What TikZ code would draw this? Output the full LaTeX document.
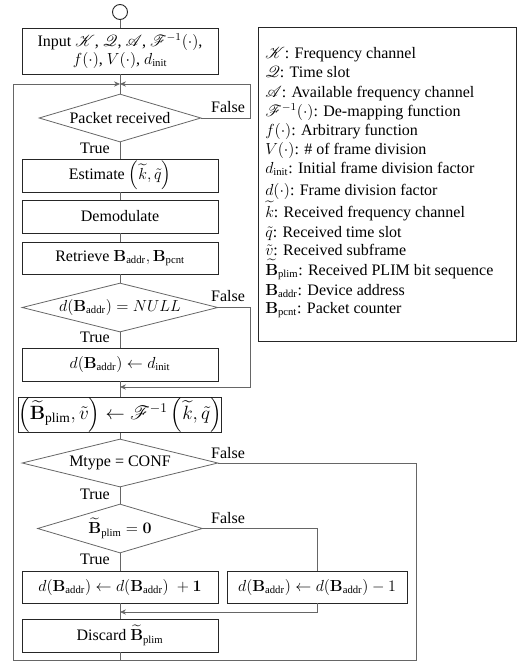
\documentclass[tikz,border=0pt]{standalone}
\usepackage{amsmath}
\usepackage{mathrsfs}
\usepackage[no-math]{fontspec}
\setmainfont{Liberation Serif}
\usetikzlibrary{shapes.geometric,arrows.meta}
\newcommand{\bsub}[1]{\mathbf{B}_{\text{#1}}}
\newcommand{\btil}{\widetilde{\mathbf{B}}_{\text{plim}}}
\begin{document}
\begin{tikzpicture}[x=0.75pt,y=-0.75pt,
  font=\fontsize{12}{14}\selectfont,
  conn/.style={draw=black!60, line width=0.6pt},
  arr/.style={-{Stealth[length=4.5pt,width=4pt]}},
  stepbox/.style={draw=black!85, line width=0.7pt, minimum width=147pt, minimum height=24.75pt, inner sep=0pt},
  decis/.style={diamond, draw=black!60, line width=0.6pt, inner sep=0pt, minimum width=#1},
  lbl/.style={inner sep=0pt},
  leg/.style={anchor=base west, inner sep=0pt}]
\useasboundingbox (0,0) rectangle (525,664);
% start
\node[circle, draw=black!85, line width=0.7pt, minimum size=11.25pt, inner sep=0pt] (start) at (120,12) {};
\node[stepbox, minimum height=34.5pt, align=center, font=\fontsize{12}{13}\selectfont] (input) at (120,51)
  {Input $\mathscr{K}$, $\mathscr{Q}$, $\mathscr{A}$, $\mathscr{F}^{-1}(\cdot)$,\\ $f(\cdot)$, $V(\cdot)$, $d_{\text{init}}$};
\coordinate (J) at (120,84);
\node[decis=121.5pt, minimum height=36pt] (pr) at (120,118) {\makebox[0pt]{Packet received}};
\node[stepbox] (est) at (120,175.5) {Estimate $\left(\widetilde{k},\tilde{q}\right)$};
\node[stepbox] (demod) at (120,216.5) {Demodulate};
\node[stepbox, minimum height=24pt] (retr) at (120,258) {Retrieve $\bsub{addr}, \bsub{pcnt}$};
\node[decis=147pt, minimum height=36.75pt] (null) at (120,307.5) {\makebox[0pt]{$d(\bsub{addr}) = NULL$}};
\node[stepbox] (init) at (120,364.5) {$d(\bsub{addr}) \leftarrow d_{\text{init}}$};
\node[stepbox, minimum height=25.5pt, font=\fontsize{14.5}{16}\selectfont] (map) at (120,415) {$\left(\btil,\tilde{v}\right) \leftarrow \mathscr{F}^{-1}\left(\widetilde{k},\tilde{q}\right)$};
\node[decis=147pt, minimum height=36pt] (mt) at (120,463) {\makebox[0pt]{Mtype = CONF}};
\node[decis=123.75pt, minimum height=36.75pt] (bp) at (120,528.5) {\makebox[0pt]{$\btil = \mathbf{0}$}};
\node[stepbox, minimum height=24pt] (plus) at (120,587) {$d(\bsub{addr}) \leftarrow d(\bsub{addr})\;+\mathbf{1}$};
\node[stepbox, minimum width=135pt, minimum height=24pt] (minus) at (317,587) {$d(\bsub{addr}) \leftarrow d(\bsub{addr}) - 1$};
\node[stepbox] (disc) at (120,635.5) {Discard $\btil$};
% coordinates
\coordinate (bR) at (416,660);
\coordinate (bL) at (13,660);
\coordinate (prR) at (250,84);
\coordinate (nR) at (250,387);
\coordinate (nJ) at (120,387);
\coordinate (pJ) at (120,612);
% connectors
\draw[conn] (start) -- (input);
\draw[conn] (input) -- (pr);
\draw[conn,arr] (mt.east) -| (bR) -- (bL) |- (J);
\draw[conn] (disc) -- (disc |- bL);
\draw[conn,arr] (pr.east) -| (prR) -- (J);
\draw[conn] (pr) -- (est);
\draw[conn] (est) -- (demod);
\draw[conn] (demod) -- (retr);
\draw[conn] (retr) -- (null);
\draw[conn] (null) -- (init);
\draw[conn,arr] (null.east) -| (nR) -- (nJ);
\draw[conn] (init) -- (map);
\draw[conn] (map) -- (mt);
\draw[conn] (mt) -- (bp);
\draw[conn] (bp) -- (plus);
\draw[conn] (bp.east) -| (minus.north);
\draw[conn,arr] (minus.south) |- (pJ);
\draw[conn] (plus) -- (disc);
% labels
\node[lbl] (f1) at (228,107) {False};
\node[lbl] (f2) at (228,296) {False};
\node[lbl] (f3) at (228,453) {False};
\node[lbl] (f4) at (228,518) {False};
\node[lbl] (t1) at (95,148) {True};
\node[lbl] (t2) at (95,337) {True};
\node[lbl] (t3) at (95,494) {True};
\node[lbl] (t4) at (95,559) {True};
% legend
\node[draw=black!85, line width=0.7pt, minimum width=193.5pt, minimum height=235.5pt, inner sep=0pt] (legend) at (387,184) {};
\node[leg] (l1) at (265,58) {$\mathscr{K}$: Frequency channel};
\node[leg] (l2) at (265,77) {$\mathscr{Q}$: Time slot};
\node[leg] (l3) at (265,97) {$\mathscr{A}$: Available frequency channel};
\node[leg] (l4) at (265,116) {$\mathscr{F}^{-1}(\cdot)$: De-mapping function};
\node[leg] (l5) at (265,135) {$f(\cdot)$: Arbitrary function};
\node[leg] (l6) at (265,154) {$V(\cdot)$: \# of frame division};
\node[leg] (l7) at (265,173) {$d_{\text{init}}$: Initial frame division factor};
\node[leg] (l8) at (265,195) {$d(\cdot)$: Frame division factor};
\node[leg] (l9) at (265,217) {$\widetilde{k}$: Received frequency channel};
\node[leg] (l10) at (265,237) {$\tilde{q}$: Received time slot};
\node[leg] (l11) at (265,255) {$\tilde{v}$: Received subframe};
\node[leg] (l12) at (265,275) {$\btil$: Received PLIM bit sequence};
\node[leg] (l13) at (265,295) {$\bsub{addr}$: Device address};
\node[leg] (l14) at (265,313) {$\bsub{pcnt}$: Packet counter};
\end{tikzpicture}
\end{document}
